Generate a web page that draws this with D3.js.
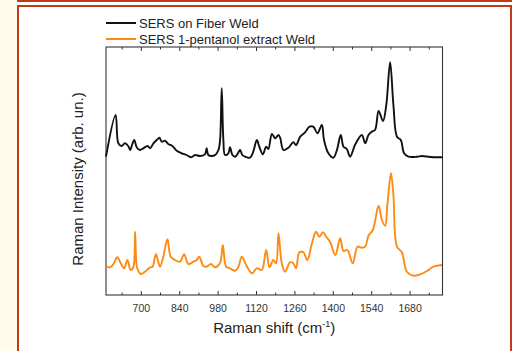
<!DOCTYPE html>
<html><head><meta charset="utf-8">
<script src="https://cdn.jsdelivr.net/npm/d3@7"></script>
<style>
html,body{margin:0;padding:0;background:#fff;}
svg{display:block;font-family:"Liberation Sans",Arial,sans-serif;}
</style></head>
<body>
<svg id="c" width="512" height="351"></svg>
<script>
// ---- data ----
const seriesNames = ["SERS on Fiber Weld", "SERS 1-pentanol extract Weld"];
const fiberShift = [573,608,618,630,642,654,661,669,676,685,697,709,725,734,746,758,768,776,788,800,815,831,849,867,882,898,916,934,940,946,959,971,983,989,995,1001,1007,1019,1025,1034,1044,1054,1062,1070,1080,1098,1110,1123,1132,1145,1157,1165,1178,1190,1202,1208,1220,1238,1256,1266,1281,1299,1315,1329,1344,1360,1368,1384,1402,1415,1429,1439,1451,1463,1482,1506,1518,1530,1542,1554,1567,1583,1595,1609,1621,1634,1648,1660,1676,1707,1725,1755,1794,1800];
const fiberIntensity = [138.3,180,151.7,149,151.7,149,145,151,155,147.7,145,146.7,149,146.7,151.7,155,157.3,153.3,154.3,151,149,144.3,141.7,140,137.7,140,139,140.7,146.7,140,139,140,145,155,206.7,155,140,141.7,147.7,140,138.3,141.7,145,140,138.3,137.3,143.3,155,148.3,140.7,148.3,146,161,156.7,160,157.3,145,147.3,152.7,150,158.3,162.7,168.3,168.3,161.7,170,155,141.7,137.3,145,160,148.3,146,138.3,150.7,160,151.7,160,163.3,165,184,174,190,232.7,190,158.3,155,141.7,138.3,138.3,139,138,137.7,137.7];
const extractShift = [573,588,600,614,627,639,651,663,673,679,687,700,715,734,743,755,770,782,797,809,825,843,858,873,892,904,913,928,940,955,971,989,999,1011,1025,1044,1056,1068,1086,1105,1123,1141,1157,1169,1183,1193,1202,1214,1226,1244,1256,1266,1278,1293,1307,1324,1339,1351,1364,1376,1390,1409,1427,1439,1453,1473,1490,1506,1518,1530,1546,1567,1579,1591,1599,1612,1621,1634,1652,1670,1694,1719,1743,1767,1798];
const extractIntensity = [28.3,27.7,31,37.7,31.7,26.7,35,25,28.3,63.3,26.7,21,23.3,27.7,28.3,41,28.3,38.3,55.7,38.3,35,33.3,40.7,31,33.3,35,38.3,29,28.3,31,27.7,32.3,50,28.3,26.7,24.3,28.3,38.3,29,21.7,26.7,25,45,27.7,35,31.7,61.7,31.7,23.3,32.7,31.7,26.7,42.7,42.7,35,51.7,63.3,58.3,62.7,58.3,53.3,40,56.7,44,45,31.7,48.3,47.3,48.3,59.3,65,89.3,75,69.3,90,121.7,100,48.3,42.7,23.3,19.3,20.7,24,28.3,30];
const majorTicks = [700,840,980,1120,1260,1400,1540,1680];
const minorTicks = [630,770,910,1050,1190,1330,1470,1610,1750];
const xTitle = "Raman shift (cm";
const yTitle = "Raman Intensity (arb. un.)";

// ---- drawing ----
const svg = d3.select("#c");
const frameColor = "#c13a17";
svg.append("rect").attr("x",0).attr("y",0).attr("width",17).attr("height",351).attr("fill","#fffcea");
svg.append("rect").attr("x",17).attr("y",0).attr("width",495).attr("height",2).attr("fill",frameColor);
svg.append("path").attr("d","M18,351V6H511V351").attr("fill","none").attr("stroke",frameColor).attr("stroke-width",2);

const L=106, R=442.5, T=47, B=295;
const x = d3.scaleLinear().domain([573,1800]).range([L,R]);
const y = d3.scaleLinear().domain([0,248]).range([B,T]);

const g = svg.append("g");
g.append("rect").attr("x",L).attr("y",T).attr("width",R-L).attr("height",B-T)
  .attr("fill","none").attr("stroke","#333").attr("stroke-width",1.1);

const axBottom = g.append("g").attr("transform",`translate(0,${B})`)
  .call(d3.axisBottom(x).tickValues(majorTicks).tickSize(-4).tickPadding(10).tickFormat(d3.format("d")));
const axBottomMinor = g.append("g").attr("transform",`translate(0,${B})`)
  .call(d3.axisBottom(x).tickValues(minorTicks).tickSize(-2.5).tickFormat(""));
const axTop = g.append("g").attr("transform",`translate(0,${T})`)
  .call(d3.axisTop(x).tickValues(majorTicks).tickSize(-4).tickFormat(""));
const axTopMinor = g.append("g").attr("transform",`translate(0,${T})`)
  .call(d3.axisTop(x).tickValues(minorTicks).tickSize(-2.5).tickFormat(""));
[axBottom,axBottomMinor,axTop,axTopMinor].forEach(a=>{
  a.select(".domain").remove();
  a.selectAll("line").attr("stroke","#333");
});
axBottom.selectAll("text").attr("font-size",10.5).attr("fill","#333")
  .attr("font-family","Liberation Sans, Arial, sans-serif");

const line = d3.line().x(d=>x(d[0])).y(d=>y(d[1])).curve(d3.curveCatmullRom.alpha(0.5));
const fiber = fiberShift.map((s,i)=>[s,fiberIntensity[i]]);
const extract = extractShift.map((s,i)=>[s,extractIntensity[i]]);
g.append("path").datum(extract).attr("d",line).attr("fill","none")
  .attr("stroke","#ff8a12").attr("stroke-width",1.9).attr("stroke-linejoin","round");
g.append("path").datum(fiber).attr("d",line).attr("fill","none")
  .attr("stroke","#111").attr("stroke-width",1.9).attr("stroke-linejoin","round");

const colors = ["#111","#ff8a12"];
seriesNames.forEach((n,i)=>{
  const yy = 23 + i*16;
  svg.append("line").attr("x1",106).attr("x2",136).attr("y1",yy).attr("y2",yy)
    .attr("stroke",colors[i]).attr("stroke-width",2);
  svg.append("text").attr("x",139).attr("y",yy+4.5).attr("font-size",13).attr("fill","#222").text(n);
});

const xt = svg.append("text").attr("x",(L+R)/2).attr("y",333).attr("text-anchor","middle")
  .attr("font-size",15).attr("fill","#222");
xt.append("tspan").text(xTitle);
xt.append("tspan").attr("font-size",9).attr("dy",-6).text("-1");
xt.append("tspan").attr("dy",6).text(")");
svg.append("text").attr("transform",`translate(83,${(T+B)/2+8}) rotate(-90)`)
  .attr("text-anchor","middle").attr("font-size",15).attr("fill","#222").text(yTitle);
</script>
</body></html>
